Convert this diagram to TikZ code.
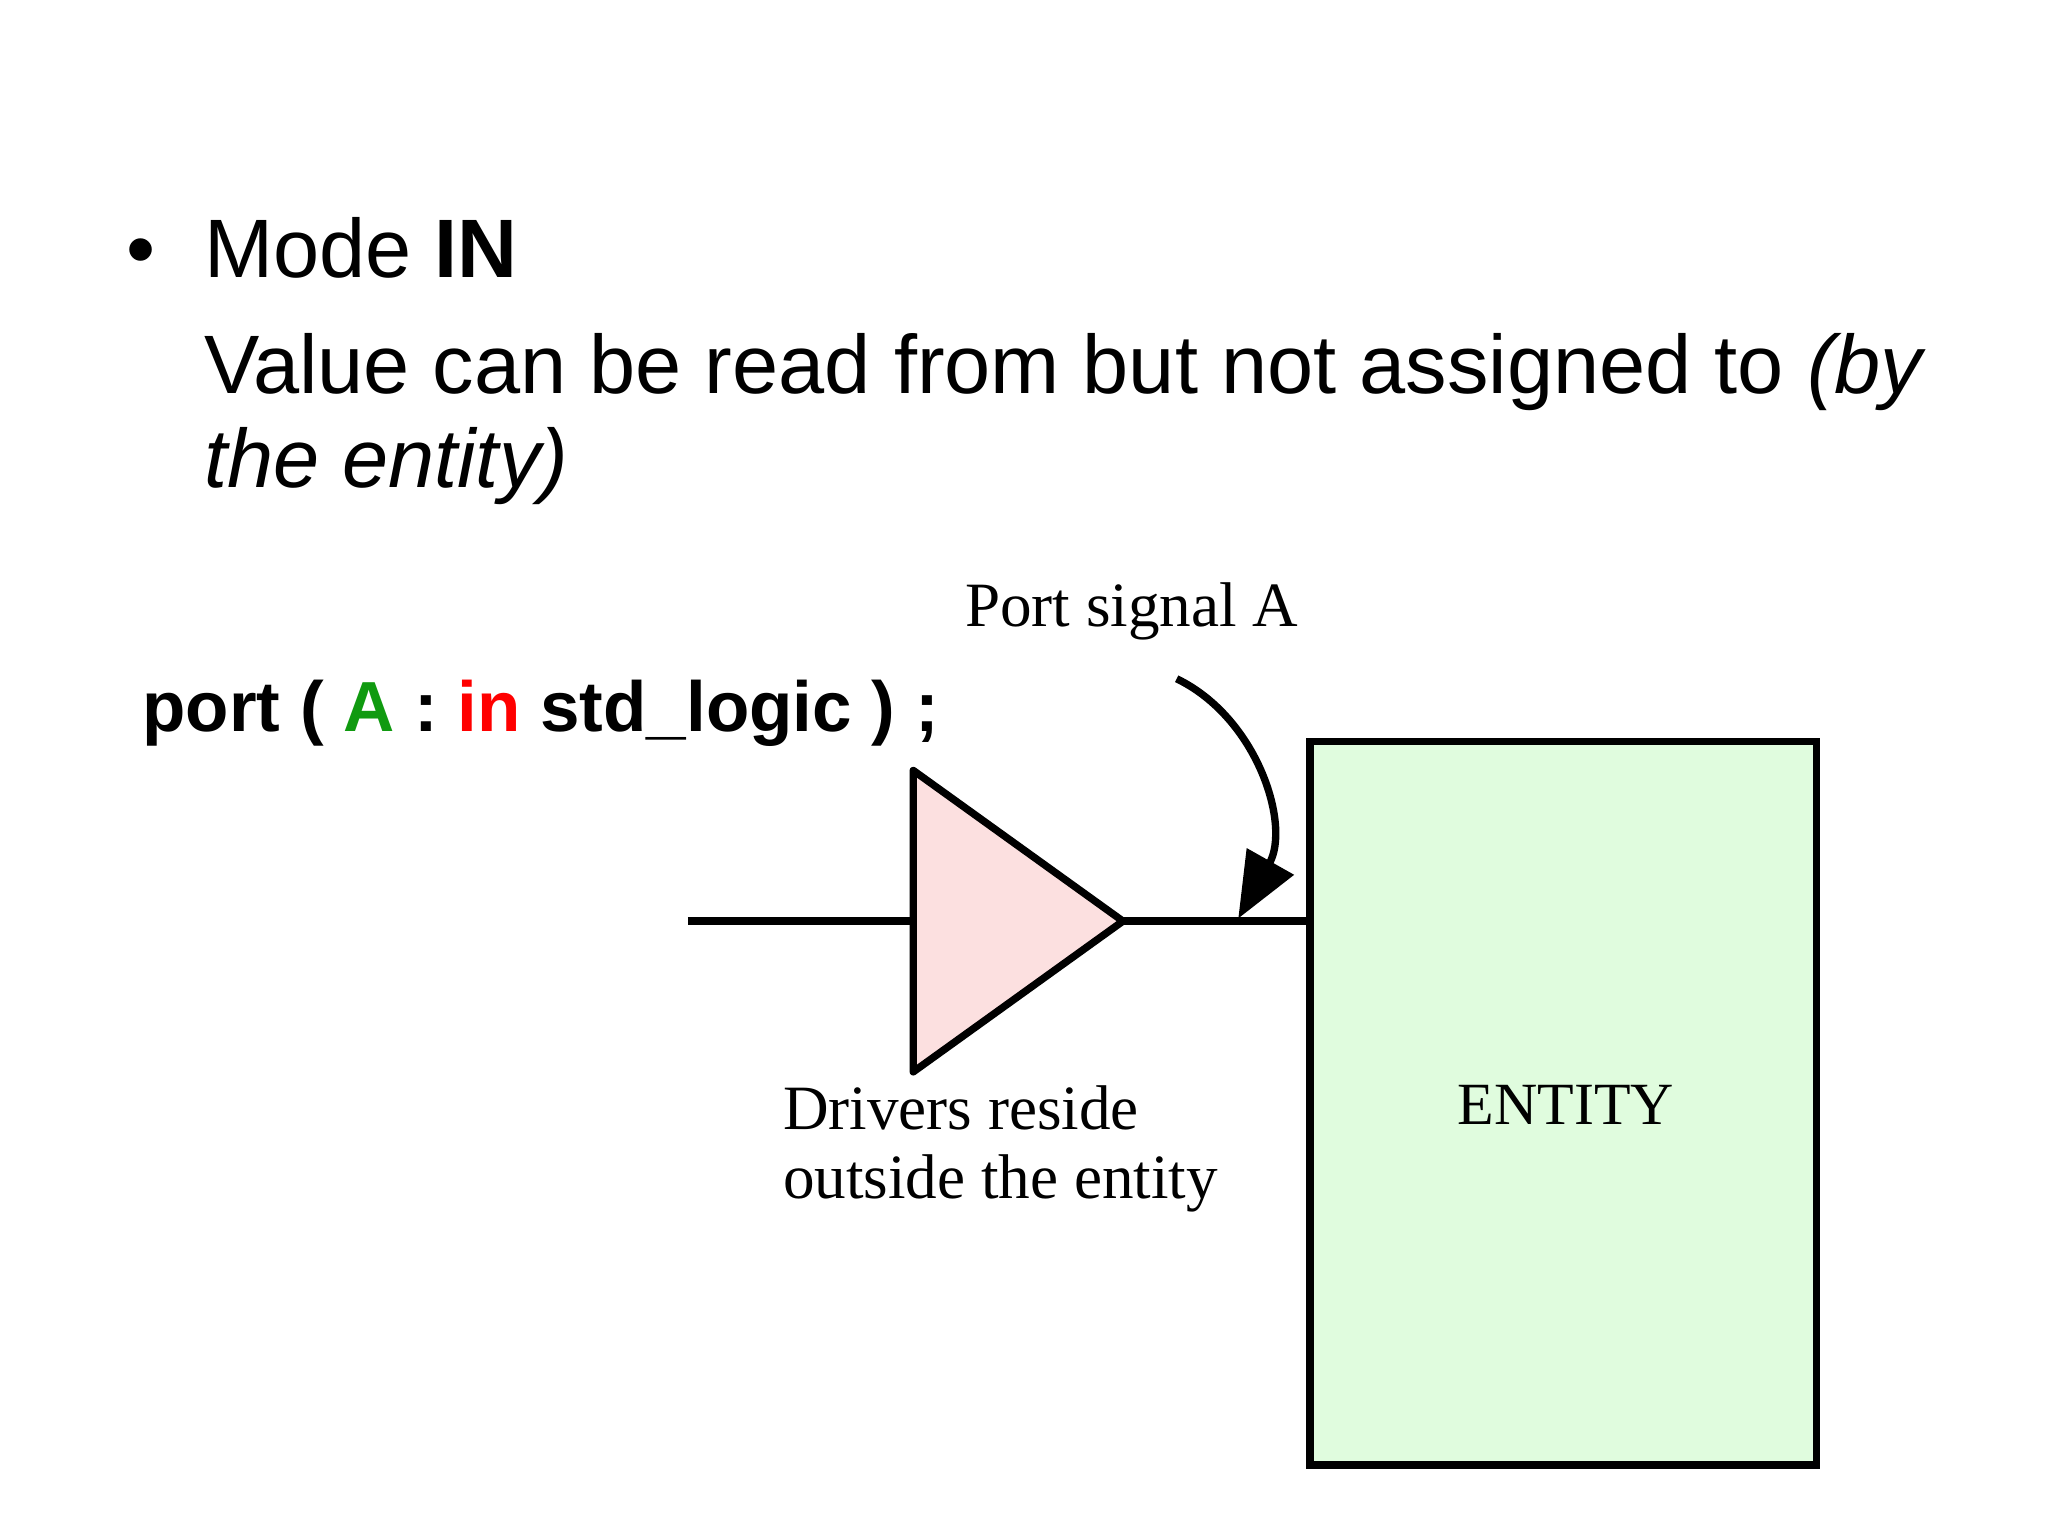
\documentclass[tikz,border=0pt]{standalone}
\usepackage{fontspec}
\setmainfont{Liberation Serif}
\newfontfamily\slidefont{Liberation Sans}
\usetikzlibrary{arrows.meta}
\definecolor{entgreen}{HTML}{E0FCDE}
\definecolor{drvpink}{HTML}{FCE0E0}
\definecolor{kwgreen}{HTML}{109A10}
\begin{document}
\begin{tikzpicture}[x=0.01cm,y=-0.01cm]
    \tikzset{
        slide/.style={anchor=base west,inner sep=0pt,font=\slidefont\fontsize{18}{22}\selectfont},
        lbl/.style={anchor=base west,inner sep=0pt,font=\fontsize{13.7}{16}\selectfont},
        wire/.style={line width=1.6pt}
    }
    \useasboundingbox (0,0) rectangle (1563,1172);
    % slide text
    \node[slide] (bul) at (96,212) {\textbullet};
    \node[slide] (mode) at (155,212) {Mode \textbf{IN}};
    \node[slide] (val1) at (155,300) {Value can be read from but not assigned to \textit{(by}};
    \node[slide] (val2) at (155,372) {\textit{the entity)}};
    \node[anchor=base west,inner sep=0pt,font=\slidefont\bfseries\fontsize{15.4}{18}\selectfont] (code) at (108,558)
        {port ( \textcolor{kwgreen}{A} : \textcolor{red}{in} std\_logic ) ;};
    % labels
    \node[lbl] (sig) at (736,478) {Port signal A};
    \node[lbl] (drv1) at (597,862) {Drivers reside};
    \node[lbl] (drv2) at (597,915) {outside the entity};
    % driver and entity
    \draw[wire,fill=drvpink,line join=round] (697,588) coordinate (tl) -- (857,703) coordinate (tip)
        -- (697,818) coordinate (bl) -- cycle;
    \coordinate (in) at (697,703);
    \coordinate (src) at (525,703);
    \node[draw,wire,fill=entgreen,minimum width=3.86cm,minimum height=5.52cm,inner sep=0pt]
        (ent) at (1193,842) {};
    \node[lbl,anchor=base,font=\fontsize{13}{16}\selectfont] (entlbl) at (1195,858) {ENTITY};
    \draw[wire] (src) -- (in);
    \draw[wire] (tip) -- (ent.west |- tip);
    % pointer
    \coordinate (ps) at (898,518);
    \coordinate (pe) at (945,701);
    \draw[wire,-{Triangle[length=5mm,width=4mm]}] (ps) .. controls (960,548) and (985,630) .. (pe);
\end{tikzpicture}
\end{document}
